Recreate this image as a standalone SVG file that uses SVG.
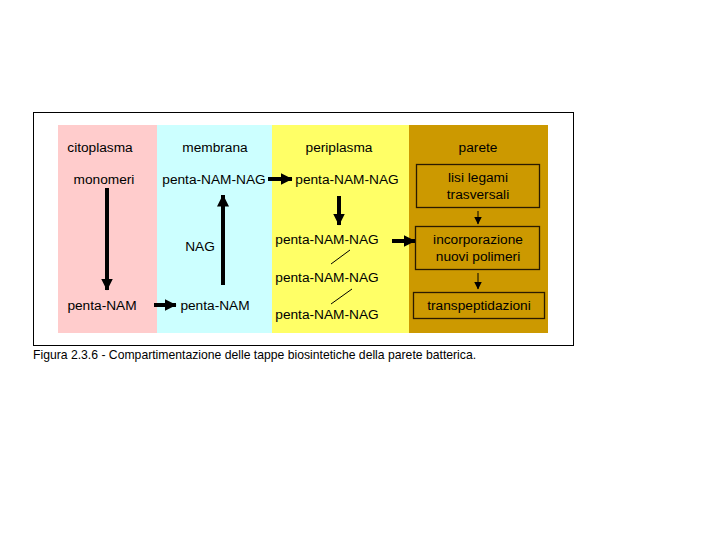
<svg xmlns="http://www.w3.org/2000/svg" width="720" height="540" viewBox="0 0 720 540">
<style>
text{font-family:"Liberation Sans",Arial,sans-serif;font-size:13.7px;fill:#000;text-anchor:middle}
.cap{font-size:12.2px;text-anchor:start}
.thick{stroke:#000;stroke-width:4;fill:none}
.thin{stroke:#000;stroke-width:1;fill:none}
.box{fill:#CC9900;stroke:#2a1a00;stroke-width:1.3}
</style>
<defs>
<marker id="big" markerUnits="userSpaceOnUse" markerWidth="12" markerHeight="12" viewBox="0 0 12 12" refX="11.5" refY="6" orient="auto">
<path d="M0,0 L12,6 L0,12 Z" fill="#000"/>
</marker>
<marker id="small" markerUnits="userSpaceOnUse" markerWidth="8" markerHeight="8" viewBox="0 0 8 8" refX="7.5" refY="4" orient="auto">
<path d="M0,0 L8,4 L0,8 Z" fill="#000"/>
</marker>
</defs>
<rect width="720" height="540" fill="#fff"/>
<rect x="33.5" y="112.5" width="540" height="233" fill="#fff" stroke="#000" stroke-width="1"/>
<g id="citoplasma">
<rect x="58" y="125" width="99" height="208" fill="#FFCCCC"/>
<text x="100" y="152">citoplasma</text>
<text id="monomeri" x="104" y="184">monomeri</text>
<text id="penta-NAM-c" x="102" y="310">penta-NAM</text>
</g>
<g id="membrana">
<rect x="157" y="125" width="115" height="208" fill="#CCFFFF"/>
<text x="215" y="152">membrana</text>
<text id="penta-NAM-NAG-m" x="214" y="184">penta-NAM-NAG</text>
<text id="NAG" x="200" y="251">NAG</text>
<text id="penta-NAM-m" x="215" y="310">penta-NAM</text>
</g>
<g id="periplasma">
<rect x="272" y="125" width="137" height="208" fill="#FFFF66"/>
<text x="339" y="152">periplasma</text>
<text id="penta-NAM-NAG-p1" x="347" y="184">penta-NAM-NAG</text>
<text id="penta-NAM-NAG-p2" x="327" y="244">penta-NAM-NAG</text>
<text id="penta-NAM-NAG-p3" x="327" y="282">penta-NAM-NAG</text>
<text id="penta-NAM-NAG-p4" x="327" y="319">penta-NAM-NAG</text>
</g>
<g id="parete">
<rect x="409" y="125" width="139" height="208" fill="#CC9900"/>
<text x="478" y="152">parete</text>
</g>
<g id="lisi">
<rect class="box" x="416.5" y="164.5" width="123" height="43"/>
<text x="478" y="182">lisi legami</text>
<text x="478" y="199">trasversali</text>
</g>
<g id="incorporazione">
<rect class="box" x="415.5" y="226.5" width="124" height="43"/>
<text x="478" y="244">incorporazione</text>
<text x="478" y="261">nuovi polimeri</text>
</g>
<g id="transpeptidazioni">
<rect class="box" x="413.5" y="292.5" width="131" height="26"/>
<text x="479" y="310">transpeptidazioni</text>
</g>
<g id="connectors">
<line class="thick" x1="107" y1="188" x2="107" y2="290" marker-end="url(#big)"/>
<line class="thick" x1="223" y1="285" x2="223" y2="195" marker-end="url(#big)"/>
<line class="thick" x1="154" y1="305" x2="176" y2="305" marker-end="url(#big)"/>
<line class="thick" x1="268" y1="179" x2="292" y2="179" marker-end="url(#big)"/>
<line class="thick" x1="339" y1="196" x2="339" y2="225" marker-end="url(#big)"/>
<line class="thick" x1="392" y1="241" x2="415" y2="241" marker-end="url(#big)"/>
<line class="thin" x1="478" y1="211" x2="478" y2="224" marker-end="url(#small)"/>
<line class="thin" x1="478" y1="273" x2="478" y2="289" marker-end="url(#small)"/>
<line class="thin" x1="331" y1="264" x2="350" y2="250"/>
<line class="thin" x1="331" y1="304" x2="352" y2="289"/>
</g>
<text class="cap" x="33" y="359">Figura 2.3.6 - Compartimentazione delle tappe biosintetiche della parete batterica.</text>
</svg>
